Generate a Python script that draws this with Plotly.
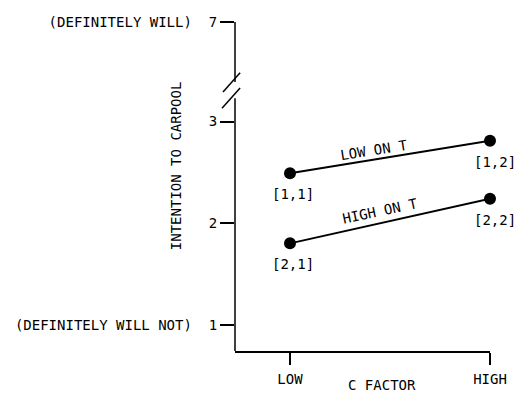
import plotly.graph_objects as go

# ---- data ----
c_levels = [1, 2]                      # LOW, HIGH on C factor
c_labels = ["LOW", "HIGH"]
low_on_t = [2.49, 2.81]                # cells [1,1], [1,2]
high_on_t = [1.80, 2.24]               # cells [2,1], [2,2]
low_cells = ["[1,1]", "[1,2]"]
high_cells = ["[2,1]", "[2,2]"]

# y ticks (axis is broken between 3 and 7; 7 drawn just above the break)
y_tickvals = [1, 2, 3, 3.98]
y_ticktext = ["(DEFINITELY WILL NOT)\u00a0\u00a01", "2", "3", "(DEFINITELY WILL)\u00a0\u00a07"]
y_range = [0.74, 3.98]
x_range = [0.725, 2.0]
break_lo, break_hi = 3.23, 3.39

FONT = "DejaVu Sans Mono"
FS = 14
BLACK = "#000000"

fig = go.Figure()

for vals in (low_on_t, high_on_t):
    fig.add_trace(go.Scatter(
        x=c_levels, y=vals, mode="lines+markers",
        line=dict(color=BLACK, width=2),
        marker=dict(color=BLACK, size=12),
        cliponaxis=False, showlegend=False, hoverinfo="skip",
    ))

annotations = []
for vals, cells in ((low_on_t, low_cells), (high_on_t, high_cells)):
    for i, (x, y, t) in enumerate(zip(c_levels, vals, cells)):
        annotations.append(dict(x=x, y=y, text=t, showarrow=False,
                                xshift=3 + 2 * i, yshift=-21,
                                font=dict(family=FONT, size=FS, color=BLACK)))

# line labels placed along the lines
def along(vals, f):
    return c_levels[0] + f * (c_levels[1] - c_levels[0]), vals[0] + f * (vals[1] - vals[0])

lx, ly = along(low_on_t, 0.42)
annotations.append(dict(x=lx, y=ly, text="LOW ON T", showarrow=False, textangle=-9,
                        yshift=10, font=dict(family=FONT, size=FS, color=BLACK)))
hx, hy = along(high_on_t, 0.45)
annotations.append(dict(x=hx, y=hy, text="HIGH ON T", showarrow=False, textangle=-12,
                        yshift=12, font=dict(family=FONT, size=FS, color=BLACK)))

# axis titles
annotations.append(dict(xref="paper", yref="paper", x=-0.231, y=0.562,
                        xanchor="center", yanchor="middle",
                        text="INTENTION TO CARPOOL", textangle=-90, showarrow=False,
                        font=dict(family=FONT, size=FS, color=BLACK)))
annotations.append(dict(xref="paper", yref="paper", x=0.576, y=-0.104,
                        xanchor="center", yanchor="middle",
                        text="C FACTOR", showarrow=False,
                        font=dict(family=FONT, size=FS, color=BLACK)))

shapes = [
    # y axis line with a gap for the break
    dict(type="line", xref="paper", yref="y", x0=0, x1=0, y0=y_range[0], y1=break_lo,
         line=dict(color=BLACK, width=1.5)),
    dict(type="line", xref="paper", yref="y", x0=0, x1=0, y0=break_hi, y1=y_range[1],
         line=dict(color=BLACK, width=1.5)),
    # break slashes
    dict(type="line", xref="paper", yref="y", x0=-0.047, x1=0.02, y0=3.29, y1=3.48,
         line=dict(color=BLACK, width=1.5)),
    dict(type="line", xref="paper", yref="y", x0=-0.051, x1=0.02, y0=3.13, y1=3.33,
         line=dict(color=BLACK, width=1.5)),
]

fig.update_layout(
    width=516, height=394,
    margin=dict(l=235, r=26, t=22, b=43),
    paper_bgcolor="white", plot_bgcolor="white",
    font=dict(family=FONT, size=FS, color=BLACK),
    xaxis=dict(range=x_range, tickvals=c_levels, ticktext=c_labels, automargin=False,
               showline=True, linecolor=BLACK, linewidth=1.5,
               ticks="outside", ticklen=12, tickcolor=BLACK, tickwidth=1.5,
               showgrid=False, zeroline=False, ticklabelstandoff=2),
    yaxis=dict(range=y_range, tickvals=y_tickvals, ticktext=y_ticktext, automargin=False,
               showline=False, ticks="outside", ticklen=14, tickcolor=BLACK, tickwidth=1.5,
               showgrid=False, zeroline=False),
    annotations=annotations, shapes=shapes,
)

fig.write_html("out.html", config={"displayModeBar": False},
               post_script="document.body.style.margin='0';document.body.style.overflow='hidden';")
